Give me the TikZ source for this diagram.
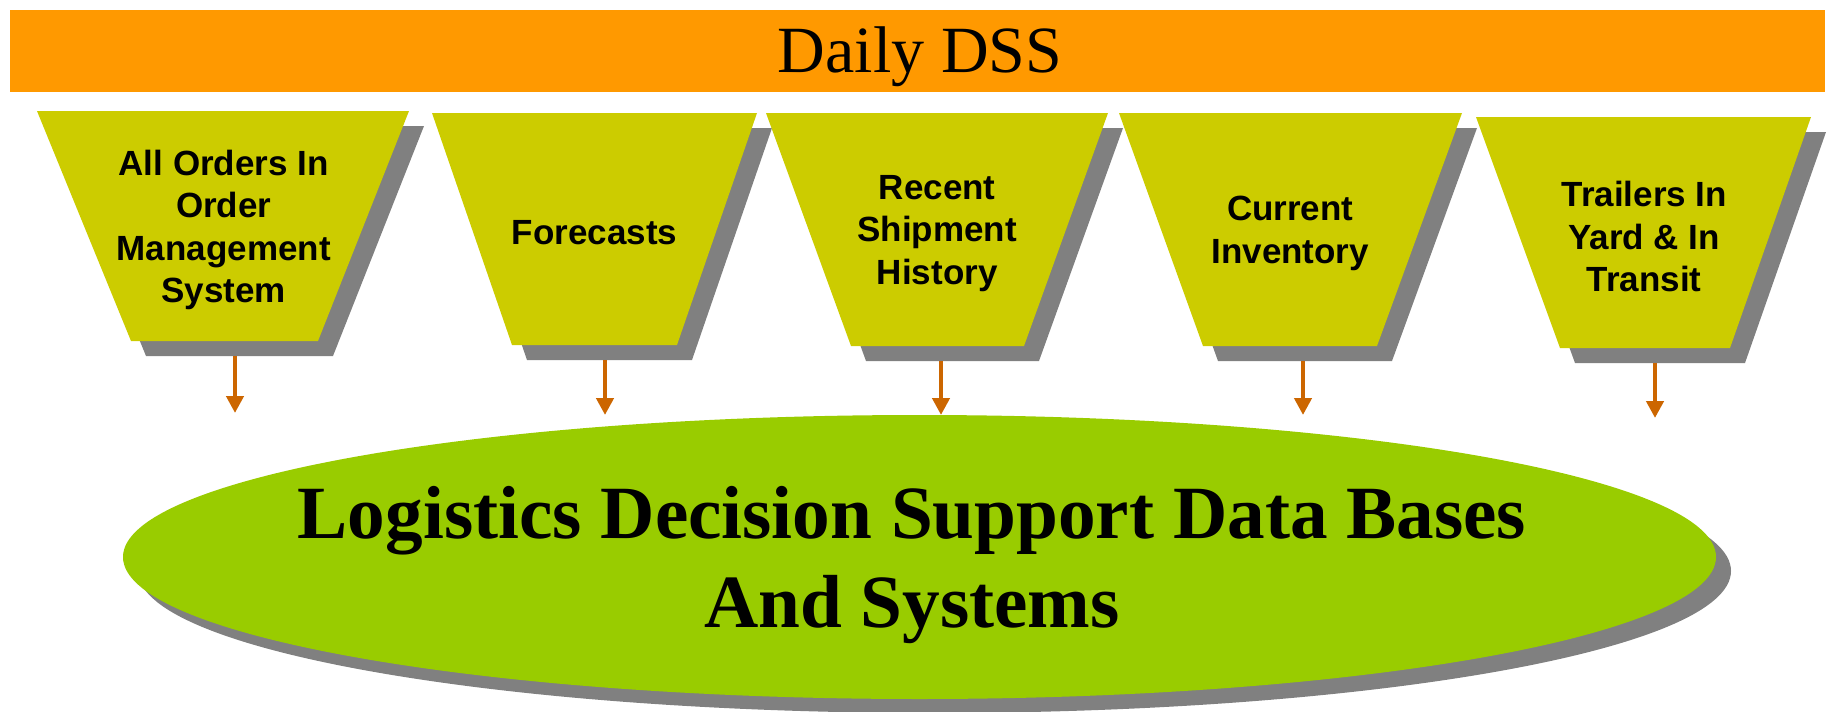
\documentclass[tikz,border=0pt]{standalone}
\usepackage{fontspec}
\setmainfont{Liberation Serif}
\newfontfamily\labelfont{Liberation Sans}
\usetikzlibrary{arrows.meta}
\definecolor{barorange}{RGB}{255,153,0}
\definecolor{trapfill}{RGB}{204,204,0}
\definecolor{shadowgray}{RGB}{128,128,128}
\definecolor{ellgreen}{RGB}{153,204,0}
\definecolor{arroworange}{RGB}{204,102,0}
% name, TL, TR, BL, BR, top, bottom, text, arrow x, arrow tip y
\newcommand\trapbox[9]{%
  \fill[shadowgray] (#2+15,#6+15) -- (#3+15,#6+15) -- (#5+15,#7+15) -- (#4+15,#7+15) -- cycle;
  \fill[trapfill] (#2,#6) -- (#3,#6) -- (#5,#7) -- (#4,#7) -- cycle;
  \node[traplabel] (#1) at ({(#2+#3+#4+#5)/4},{(#6+#7)/2+4}) {#8};
  \trapout{#1}{#7}#9%
}
\newcommand\trapout[4]{%
  \coordinate (#1-out) at (#3,#2+15);
  \coordinate (#1-tip) at (#3,#4);
}
\begin{document}
\begin{tikzpicture}[x=0.5pt,y=-0.5pt,
  traplabel/.style={font=\labelfont\bfseries\fontsize{17.5pt}{21.3pt}\selectfont, align=center, inner sep=0pt},
  flowarrow/.style={draw=arroworange, line width=2.2pt, -{Triangle[width=8.5pt,length=8.5pt]}, fill=arroworange}
]
\useasboundingbox (0,0) rectangle (1832,712);
% title bar
\fill[barorange] (10,10) rectangle (1825,92);
\node[anchor=base, inner sep=0pt, font=\fontsize{33pt}{40pt}\selectfont] (title) at (920,72) {Daily DSS};
% ellipse with shadow
\fill[shadowgray] (934.5,571) ellipse [x radius=796.5, y radius=142];
\fill[ellgreen] (919.5,557) ellipse [x radius=796.5, y radius=142];
\node[inner sep=0pt, font=\bfseries\fontsize{37.6pt}{44.5pt}\selectfont, align=center] (dbtext) at (912,565) {Logistics Decision Support Data Bases\\And Systems};
% source boxes
\trapbox{t1}{37}{409}{131}{318}{111}{341}{All Orders In\\Order\\Management\\System}{{235}{413}}
\trapbox{t2}{432}{757}{512}{677}{113}{345}{Forecasts}{{605}{415}}
\trapbox{t3}{766}{1108}{851}{1024}{113}{346}{Recent\\Shipment\\History}{{941}{415}}
\trapbox{t4}{1119}{1462}{1203}{1377}{113}{346}{Current\\Inventory}{{1303}{415}}
\trapbox{t5}{1476}{1811}{1560}{1730}{117}{348}{Trailers In\\Yard \& In\\Transit}{{1655}{418}}
\foreach \i in {1,...,5} {\draw[flowarrow] (t\i-out) -- (t\i-tip);}
\end{tikzpicture}
\end{document}
